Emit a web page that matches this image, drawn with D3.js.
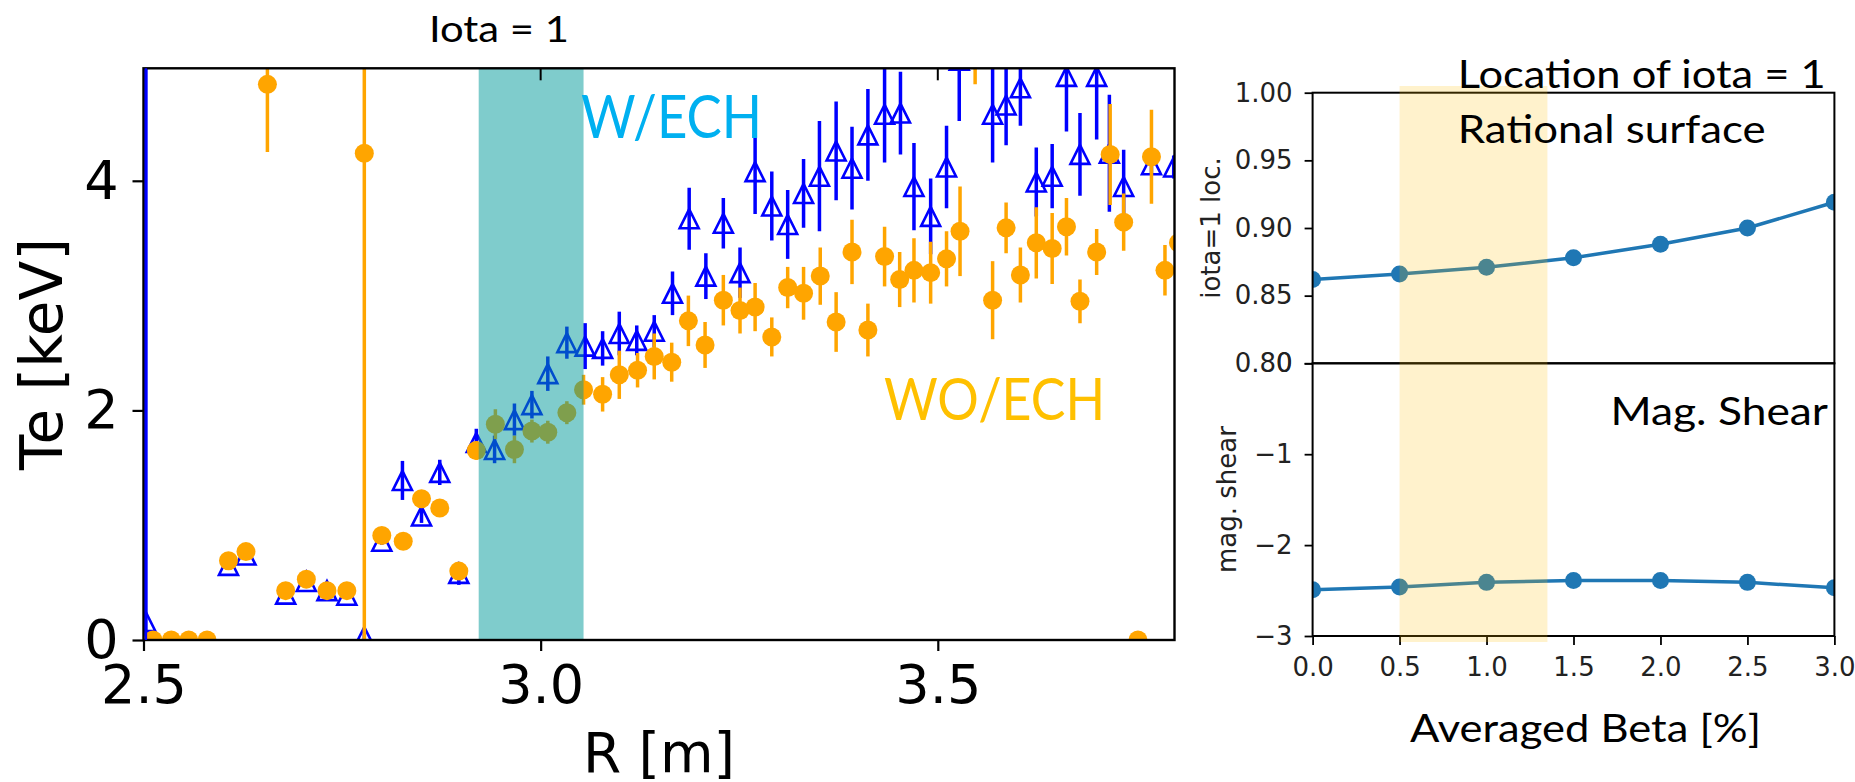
<!DOCTYPE html>
<html><head><meta charset="utf-8">
<script src="https://cdn.jsdelivr.net/npm/d3@7/dist/d3.min.js"></script>
<style>body{margin:0;background:#fff;} svg{display:block}</style>
</head><body>
<svg id="c" width="1855" height="782"></svg>
<script>
// ---------- Left panel data: Te profile ----------
const weR   = [2.503,2.607,2.629,2.679,2.705,2.731,2.756,2.778,2.800,2.826,2.850,2.873,2.897,2.919,2.942,2.967,2.989,3.009,3.033,3.056,3.078,3.099,3.121,3.143,3.166,3.187,3.208,3.230,3.251,3.270,3.291,3.311,3.331,3.351,3.372,3.392,3.412,3.433,3.453,3.470,3.491,3.511,3.527,3.569,3.586,3.604,3.624,3.644,3.662,3.679,3.700,3.716,3.734,3.769,3.797];
const weTe  = [0.16,0.65,0.74,0.40,0.51,0.43,0.39,0.03,0.86,1.39,1.08,1.46,0.58,1.72,1.66,1.92,2.05,2.32,2.59,2.56,2.54,2.67,2.61,2.69,3.02,3.67,3.17,3.63,3.20,4.08,3.78,3.62,3.89,4.04,4.26,4.11,4.40,4.58,4.59,3.95,3.69,4.12,5.05,4.58,4.66,4.81,3.99,4.04,4.91,4.23,4.91,4.24,3.95,4.14,4.12];
const weErr = [5.5,0.03,0.03,0.03,0.03,0.06,0.03,0.03,0.03,0.17,0.06,0.11,0.1,0.12,0.12,0.14,0.12,0.15,0.14,0.2,0.15,0.19,0.13,0.14,0.19,0.27,0.2,0.22,0.22,0.37,0.3,0.3,0.3,0.48,0.43,0.36,0.40,0.42,0.36,0.38,0.33,0.36,0.53,0.42,0.35,0.33,0.30,0.28,0.48,0.36,0.55,0.51,0.32,0.08,0.1];

const woR   = [2.512,2.535,2.557,2.580,2.607,2.629,2.656,2.679,2.705,2.731,2.756,2.778,2.800,2.827,2.850,2.873,2.897,2.919,2.943,2.967,2.989,3.009,3.033,3.054,3.078,3.099,3.122,3.143,3.165,3.186,3.207,3.230,3.251,3.270,3.291,3.311,3.331,3.352,3.372,3.392,3.412,3.433,3.452,3.470,3.491,3.511,3.528,3.547,3.569,3.586,3.604,3.624,3.644,3.662,3.679,3.700,3.717,3.734,3.752,3.769,3.786,3.803];
const woTe  = [0,0,0,0,0.69,0.77,4.84,0.43,0.53,0.43,0.43,4.24,0.91,0.86,1.23,1.15,0.60,1.65,1.88,1.66,1.82,1.81,1.98,2.18,2.14,2.31,2.35,2.47,2.42,2.78,2.57,2.96,2.87,2.90,2.64,3.07,3.02,3.17,2.77,3.38,2.70,3.34,3.14,3.22,3.20,3.32,3.56,5.2,2.96,3.59,3.18,3.46,3.41,3.60,2.95,3.38,4.23,3.64,0,4.21,3.22,3.46];
const woErr = [0.02,0.02,0.02,0.02,0.05,0.05,0.59,0.04,0.05,0.04,0.04,4.4,0.05,0.04,0.07,0.05,0.05,0.08,0.13,0.12,0.1,0.1,0.1,0.13,0.15,0.21,0.15,0.2,0.17,0.22,0.2,0.22,0.2,0.21,0.17,0.18,0.23,0.25,0.26,0.28,0.23,0.26,0.24,0.28,0.27,0.24,0.39,0.36,0.34,0.22,0.24,0.31,0.31,0.25,0.19,0.2,0.44,0.25,0.02,0.41,0.22,0.25];

const iotaBand = [2.922, 3.054];
const leftXTicks = [2.5, 3.0, 3.5];
const leftYTicks = [0, 2, 4];

// ---------- Right panel data ----------
const beta     = [0, 0.5, 1.0, 1.5, 2.0, 2.5, 3.0];
const iotaLoc  = [0.862, 0.866, 0.871, 0.878, 0.888, 0.900, 0.919];
const magShear = [-2.49, -2.46, -2.41, -2.39, -2.39, -2.41, -2.47];
const betaBand = [0.5, 1.35];
const betaTicks = [0, 0.5, 1.0, 1.5, 2.0, 2.5, 3.0];
const iotaTicks = [0.80, 0.85, 0.90, 0.95, 1.00];
const shearTicks = [-3, -2, -1, 0];

const MPL = "'DejaVu Sans', sans-serif";
const CAL = "Lato, 'Open Sans', sans-serif";

const svg = d3.select('#c');
svg.append('rect').attr('width', 1855).attr('height', 782).attr('fill', '#fff');
const defs = svg.append('defs');

// ================= LEFT PANEL =================
const L = {l: 143.5, r: 1174.5, t: 68.3, b: 640};
const x = d3.scaleLinear().domain([2.5, 3.798]).range([L.l, L.r]);
const y = d3.scaleLinear().domain([0, 4.98]).range([L.b, L.t]);

defs.append('clipPath').attr('id', 'clipL').append('rect')
  .attr('x', L.l).attr('y', L.t).attr('width', L.r - L.l).attr('height', L.b - L.t);

const gL = svg.append('g').attr('clip-path', 'url(#clipL)');

const weData = weR.map((r, i) => ({r, te: weTe[i], e: weErr[i]}));
const woData = woR.map((r, i) => ({r, te: woTe[i], e: woErr[i]}));

// W/ECH (blue, open triangles)
gL.append('g').selectAll('line').data(weData).join('line')
  .attr('x1', d => x(d.r)).attr('x2', d => x(d.r))
  .attr('y1', d => y(d.te - d.e)).attr('y2', d => y(d.te + d.e))
  .attr('stroke', '#0000ff').attr('stroke-width', 3.5);
const s = 9.5;
gL.append('g').selectAll('path').data(weData).join('path')
  .attr('d', d => { const cx = x(d.r), cy = y(d.te);
    return `M${cx},${cy - s}L${cx - s},${cy + s}L${cx + s},${cy + s}Z`; })
  .attr('fill', 'none').attr('stroke', '#0000ff').attr('stroke-width', 2.6);

// WO/ECH (orange circles)
gL.append('g').selectAll('line').data(woData).join('line')
  .attr('x1', d => x(d.r)).attr('x2', d => x(d.r))
  .attr('y1', d => y(d.te - d.e)).attr('y2', d => y(d.te + d.e))
  .attr('stroke', '#ffa500').attr('stroke-width', 3.5);
gL.append('g').selectAll('circle').data(woData).join('circle')
  .attr('cx', d => x(d.r)).attr('cy', d => y(d.te)).attr('r', 9.5)
  .attr('fill', '#ffa500');

// iota = 1 band (semi-transparent teal on top)
gL.append('rect')
  .attr('x', x(iotaBand[0])).attr('width', x(iotaBand[1]) - x(iotaBand[0]))
  .attr('y', L.t).attr('height', L.b - L.t)
  .attr('fill', 'rgb(0,153,153)').attr('fill-opacity', 0.5);

// axes
const axB = svg.append('g').attr('transform', `translate(0,${L.b})`)
  .call(d3.axisBottom(x).tickValues(leftXTicks).tickFormat(d3.format('.1f'))
    .tickSize(11).tickSizeOuter(0).tickPadding(14));
const axLft = svg.append('g').attr('transform', `translate(${L.l},0)`)
  .call(d3.axisLeft(y).tickValues(leftYTicks).tickFormat(d3.format('d'))
    .tickSize(11).tickSizeOuter(0).tickPadding(14));
// inward top ticks
svg.append('g').selectAll('line').data(leftXTicks.slice(1)).join('line')
  .attr('x1', d => x(d)).attr('x2', d => x(d))
  .attr('y1', L.t).attr('y2', L.t + 12)
  .attr('stroke', '#000').attr('stroke-width', 2);

[axB, axLft].forEach(a => {
  a.select('.domain').remove();
  a.selectAll('line').attr('stroke', '#000').attr('stroke-width', 2.2);
  a.selectAll('text').attr('font-family', MPL).attr('font-size', 54).attr('fill', '#000');
});

svg.append('rect').attr('x', L.l).attr('y', L.t)
  .attr('width', L.r - L.l).attr('height', L.b - L.t)
  .attr('fill', 'none').attr('stroke', '#000').attr('stroke-width', 2.4);
// blue bar at x=2.5 sits over the left spine
svg.append('line').attr('x1', x(weR[0])).attr('x2', x(weR[0]))
  .attr('y1', L.t).attr('y2', L.b).attr('stroke', '#0000ff').attr('stroke-width', 2.5);

// labels
svg.append('text').attr('transform', `translate(62,${(L.t + L.b) / 2}) rotate(-90)`)
  .attr('text-anchor', 'middle').attr('font-family', MPL).attr('font-size', 58)
  .text('Te [keV]');
svg.append('text').attr('x', (L.l + L.r) / 2).attr('y', 772)
  .attr('text-anchor', 'middle').attr('font-family', MPL).attr('font-size', 55)
  .text('R [m]');

function calText(str, x0, base, w, fs, color) {
  svg.append('text').attr('x', x0).attr('y', base)
    .attr('font-family', CAL).attr('font-size', fs).attr('fill', color || '#000')
    .attr('textLength', w).attr('lengthAdjust', 'spacingAndGlyphs')
    .text(str);
}
calText('Iota = 1', 429, 41.7, 140, 37);
calText('W/ECH', 581, 138.3, 181, 60, '#00B0F0');
calText('WO/ECH', 884, 420, 221, 58, '#FFC000');

// ================= RIGHT PANEL =================
const R = {l: 1312.6, r: 1834.4, t: 92.7, m: 363.3, b: 636};
const xr = d3.scaleLinear().domain([0, 3]).range([R.l, R.r]);
const yTop = d3.scaleLinear().domain([0.80, 1.00]).range([R.m, R.t]);
const yBot = d3.scaleLinear().domain([-3, 0]).range([R.b, R.m]);

defs.append('clipPath').attr('id', 'clipRT').append('rect')
  .attr('x', R.l).attr('y', R.t).attr('width', R.r - R.l).attr('height', R.m - R.t);
defs.append('clipPath').attr('id', 'clipRB').append('rect')
  .attr('x', R.l).attr('y', R.m).attr('width', R.r - R.l).attr('height', R.b - R.m);

const C1 = '#1f77b4';
function series(clip, yS, vals) {
  const g = svg.append('g').attr('clip-path', `url(#${clip})`);
  const pts = beta.map((b, i) => [xr(b), yS(vals[i])]);
  g.append('path').attr('d', d3.line()(pts)).attr('fill', 'none')
    .attr('stroke', C1).attr('stroke-width', 3.5);
  g.selectAll('circle').data(pts).join('circle')
    .attr('cx', d => d[0]).attr('cy', d => d[1]).attr('r', 8.5).attr('fill', C1);
}
series('clipRT', yTop, iotaLoc);
series('clipRB', yBot, magShear);

// axes
function styleAx(a) {
  a.select('.domain').remove();
  a.selectAll('line').attr('stroke', '#000').attr('stroke-width', 1.8);
  a.selectAll('text').attr('font-family', MPL).attr('font-size', 26).attr('fill', '#222');
}
styleAx(svg.append('g').attr('transform', `translate(${R.l},0)`)
  .call(d3.axisLeft(yTop).tickValues(iotaTicks).tickFormat(d3.format('.2f'))
    .tickSize(8).tickSizeOuter(0).tickPadding(12)));
styleAx(svg.append('g').attr('transform', `translate(${R.l},0)`)
  .call(d3.axisLeft(yBot).tickValues(shearTicks).tickFormat(d3.format('d'))
    .tickSize(8).tickSizeOuter(0).tickPadding(12)));
styleAx(svg.append('g').attr('transform', `translate(0,${R.b})`)
  .call(d3.axisBottom(xr).tickValues(betaTicks).tickFormat(d3.format('.1f'))
    .tickSize(9).tickSizeOuter(0).tickPadding(13)));

svg.append('rect').attr('x', R.l).attr('y', R.t).attr('width', R.r - R.l).attr('height', R.m - R.t)
  .attr('fill', 'none').attr('stroke', '#000').attr('stroke-width', 2);
svg.append('rect').attr('x', R.l).attr('y', R.m).attr('width', R.r - R.l).attr('height', R.b - R.m)
  .attr('fill', 'none').attr('stroke', '#000').attr('stroke-width', 2);

// beta highlight band (semi-transparent gold on top)
svg.append('rect').attr('x', xr(betaBand[0])).attr('width', xr(betaBand[1]) - xr(betaBand[0]))
  .attr('y', 86).attr('height', 642 - 86)
  .attr('fill', 'rgb(255,192,0)').attr('fill-opacity', 0.2);

svg.append('text').attr('transform', `translate(1220,${(R.t + R.m) / 2}) rotate(-90)`)
  .attr('text-anchor', 'middle').attr('font-family', MPL).attr('font-size', 26).attr('fill', '#222')
  .text('iota=1 loc.');
svg.append('text').attr('transform', `translate(1236,${(R.m + R.b) / 2}) rotate(-90)`)
  .attr('text-anchor', 'middle').attr('font-family', MPL).attr('font-size', 26).attr('fill', '#222')
  .text('mag. shear');

calText('Location of iota = 1', 1457.7, 88, 368, 38);
calText('Rational surface', 1457.7, 143.3, 308, 39);
calText('Mag. Shear', 1610.5, 425, 217.5, 39.5);
calText('Averaged Beta [%]', 1410, 741.7, 351, 39.5);
</script>
</body></html>
